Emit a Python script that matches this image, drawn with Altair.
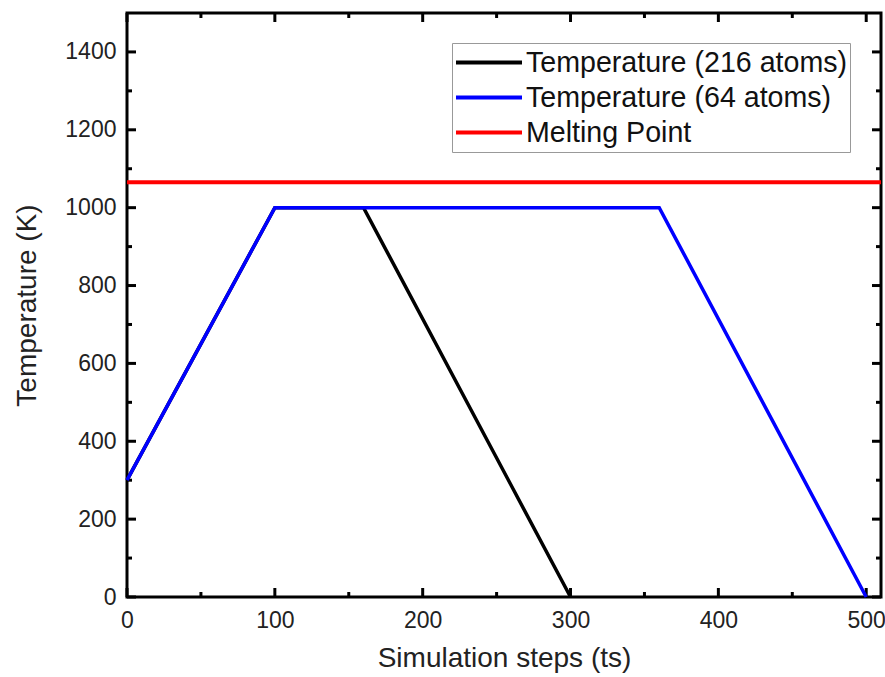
import altair as alt
import pandas as pd

# ---- data ----
series_names = ["Temperature (216 atoms)", "Temperature (64 atoms)", "Melting Point"]
series_colors = ["#000000", "#0000ff", "#ff0000"]

steps_216 = [0, 100, 160, 300]
temp_216 = [300, 1000, 1000, 0]

steps_64 = [0, 100, 360, 500]
temp_64 = [300, 1000, 1000, 0]

melting_point = [1065]

x_major = [0, 100, 200, 300, 400, 500]
x_minor = [50, 150, 250, 350, 450]
y_major = [0, 200, 400, 600, 800, 1000, 1200, 1400]
y_minor = [100, 300, 500, 700, 900, 1100, 1300]

PW, PH = 754, 584
FONT = "Liberation Sans"

df216 = pd.DataFrame({"step": steps_216, "T": temp_216, "series": series_names[0]})
df64 = pd.DataFrame({"step": steps_64, "T": temp_64, "series": series_names[1]})
dfm = pd.DataFrame({"T": melting_point, "series": series_names[2]})

xs = alt.Scale(domain=[0, 510], nice=False, zero=False)
ys = alt.Scale(domain=[0, 1500], nice=False, zero=False)

xaxis = alt.Axis(values=x_major, format="d", ticks=False, domain=False, grid=False,
                 labelFlush=False,
                 labelFontSize=23, labelFont=FONT, labelColor="#222",
                 labelPadding=12, titleFontSize=28, titleFont=FONT,
                 titleFontWeight="normal", titleColor="#222", titlePadding=12)
yaxis = alt.Axis(values=y_major, format="d", ticks=False, domain=False, grid=False,
                 labelFlush=False,
                 labelFontSize=23, labelFont=FONT, labelColor="#222",
                 labelPadding=11, titleFontSize=28, titleFont=FONT,
                 titleFontWeight="normal", titleColor="#222", titlePadding=23)

XT = "Simulation steps (ts)"
YT = "Temperature (K)"

def X(field):
    return alt.X(field, type="quantitative", scale=xs, axis=xaxis, title=XT)

def Y(field):
    return alt.Y(field, type="quantitative", scale=ys, axis=yaxis, title=YT)

color = alt.Color(
    "series:N",
    scale=alt.Scale(domain=series_names, range=series_colors),
    legend=alt.Legend(
        orient="none", legendX=325, legendY=30, title=None,
        symbolType="stroke", symbolSize=4356, symbolStrokeWidth=4,
        clipHeight=35, labelFontSize=28.6, labelFont=FONT, labelColor="#111",
        labelOffset=2, rowPadding=0, padding=2,
        strokeColor="#999999", fillColor="white", labelLimit=500,
    ),
)

line216 = alt.Chart(df216).mark_line(strokeWidth=3.5).encode(
    x=X("step"), y=Y("T"), color=color)
line64 = alt.Chart(df64).mark_line(strokeWidth=3.5).encode(
    x=X("step"), y=Y("T"), color=color)
melt = alt.Chart(dfm).mark_rule(strokeWidth=4).encode(y=Y("T"), color=color)

def xticks(vals, length):
    d = pd.DataFrame({"v": vals})
    b = alt.Chart(d).mark_rule(color="black", strokeWidth=3).encode(
        x=X("v"), y=alt.value(PH), y2=alt.value(PH - length))
    t = alt.Chart(d).mark_rule(color="black", strokeWidth=3).encode(
        x=X("v"), y=alt.value(0), y2=alt.value(length))
    return [b, t]

def yticks(vals, length):
    d = pd.DataFrame({"v": vals})
    l = alt.Chart(d).mark_rule(color="black", strokeWidth=3).encode(
        y=Y("v"), x=alt.value(0), x2=alt.value(length))
    r = alt.Chart(d).mark_rule(color="black", strokeWidth=3).encode(
        y=Y("v"), x=alt.value(PW), x2=alt.value(PW - length))
    return [l, r]

layers = (xticks(x_major, 9) + xticks(x_minor, 5)
          + yticks(y_major, 9) + yticks(y_minor, 5)
          + [line216, line64, melt])

chart = alt.layer(*layers).properties(
    width=PW, height=PH,
    autosize=alt.AutoSizeParams(type="none"),
    padding={"left": 127, "top": 13, "right": 4, "bottom": 80},
    background="white",
).configure_view(stroke="black", strokeWidth=3)

chart.save("out.html", embed_options={"renderer": "svg", "actions": False})
